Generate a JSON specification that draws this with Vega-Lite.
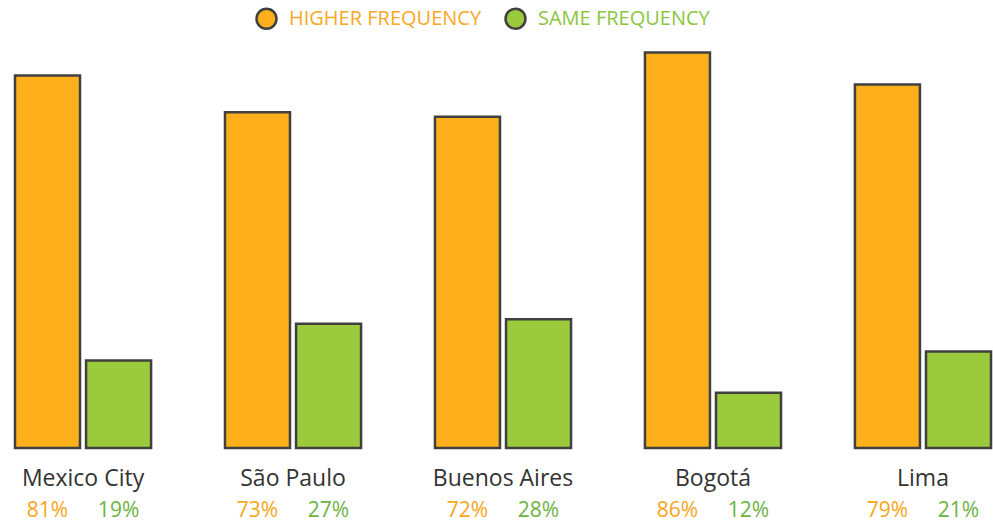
{
  "$schema": "https://vega.github.io/schema/vega-lite/v6.json",
  "width": 976,
  "height": 414,
  "autosize": {"type": "none"},
  "padding": {"left": 15, "top": 34, "right": 2, "bottom": 77},
  "background": "#ffffff",
  "config": {"view": {"stroke": null}},
  "data": {
    "values": [
      {"city": "Mexico City", "series": "HIGHER FREQUENCY", "share": 0.81},
      {"city": "Mexico City", "series": "SAME FREQUENCY", "share": 0.19},
      {"city": "São Paulo", "series": "HIGHER FREQUENCY", "share": 0.73},
      {"city": "São Paulo", "series": "SAME FREQUENCY", "share": 0.27},
      {"city": "Buenos Aires", "series": "HIGHER FREQUENCY", "share": 0.72},
      {"city": "Buenos Aires", "series": "SAME FREQUENCY", "share": 0.28},
      {"city": "Bogotá", "series": "HIGHER FREQUENCY", "share": 0.86},
      {"city": "Bogotá", "series": "SAME FREQUENCY", "share": 0.12},
      {"city": "Lima", "series": "HIGHER FREQUENCY", "share": 0.79},
      {"city": "Lima", "series": "SAME FREQUENCY", "share": 0.21}
    ]
  },
  "encoding": {
    "x": {
      "field": "city",
      "type": "nominal",
      "sort": null,
      "scale": {"paddingInner": 0.352, "paddingOuter": 0},
      "axis": {
        "title": null,
        "domain": false,
        "ticks": false,
        "labelAngle": 0,
        "labelFont": "Open Sans",
        "labelFontSize": 23,
        "labelColor": "#333333",
        "labelPadding": 19
      }
    },
    "xOffset": {
      "field": "series",
      "type": "nominal",
      "scale": {"domain": ["HIGHER FREQUENCY", "SAME FREQUENCY"], "paddingInner": 0.085, "paddingOuter": 0}
    }
  },
  "layer": [
    {
      "mark": {"type": "bar", "stroke": "#404040", "strokeWidth": 2.5},
      "encoding": {
        "y": {"field": "share", "type": "quantitative", "scale": {"domain": [0, 0.9], "nice": false}, "axis": null},
        "color": {
          "field": "series",
          "type": "nominal",
          "scale": {"domain": ["HIGHER FREQUENCY", "SAME FREQUENCY"], "range": ["#FDB01B", "#9BCB3C"]},
          "legend": {
            "title": null,
            "orient": "none",
            "direction": "horizontal",
            "legendX": 240,
            "legendY": -27,
            "padding": 0,
            "symbolType": "circle",
            "symbolSize": 400,
            "symbolStrokeColor": "#404040",
            "symbolStrokeWidth": 2.5,
            "symbolOpacity": 1,
            "labelFont": "Open Sans",
            "labelFontSize": 20,
            "labelOffset": 11,
            "columnPadding": 18,
            "labelLimit": 300,
            "encode": {
              "labels": {
                "update": {
                  "fill": {"signal": "datum.value == 'HIGHER FREQUENCY' ? '#F9A825' : '#8CC63F'"}
                }
              }
            }
          }
        }
      }
    },
    {
      "mark": {"type": "text", "baseline": "middle", "align": "center", "dy": 63, "font": "Open Sans", "fontSize": 21},
      "encoding": {
        "y": {"datum": 0, "type": "quantitative"},
        "text": {"field": "share", "type": "quantitative", "format": ".0%"},
        "color": {
          "condition": {"test": "datum.series == 'HIGHER FREQUENCY'", "value": "#F9A51B"},
          "value": "#6DB33F"
        }
      }
    }
  ]
}
